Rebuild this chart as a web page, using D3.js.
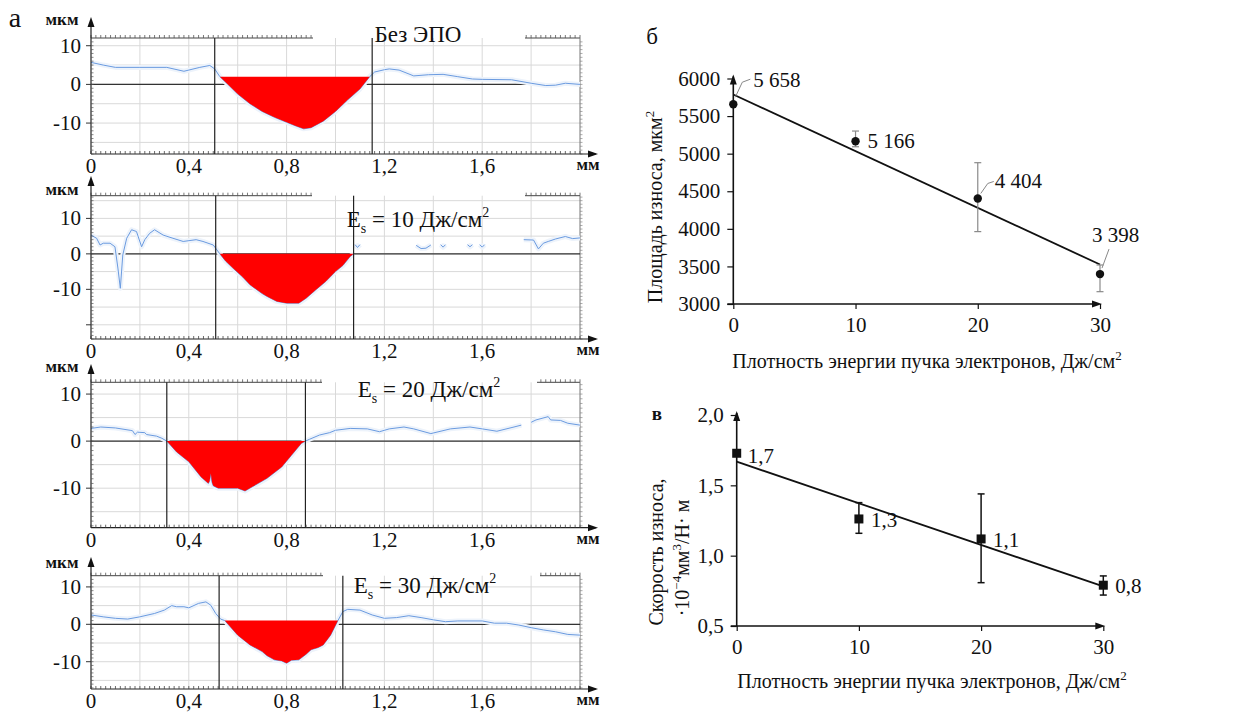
<!DOCTYPE html>
<html><head><meta charset="utf-8">
<script src="https://cdn.jsdelivr.net/npm/d3@7"></script>
<style>
body{margin:0;background:#fff}
svg{display:block}
text{font-family:"Liberation Serif","Times New Roman",serif;fill:#111}
</style>
</head><body>
<svg id="chart" width="1253" height="715"></svg>
<script>
// ---------------- DATA ----------------
// (а) wear-track profiles, x in mm, height in µm (null = gap in the trace)
const profileNoEBT = [[0,5.7],[0.05,5.0],[0.1,4.4],[0.2,4.4],[0.31,4.4],[0.38,3.4],[0.445,4.4],[0.486,4.9],[0.506,4.0],[0.527,2.0],
  [0.56,0],[0.6,-2.5],[0.65,-5],[0.7,-7],[0.75,-8.5],[0.8,-9.8],[0.84,-10.8],[0.87,-11.5],[0.9,-11.2],[0.95,-9.5],[1.0,-7.0],[1.05,-4],[1.1,-1.2],[1.14,2],
  [1.16,3.2],[1.2,3.8],[1.22,4.0],[1.26,3.7],[1.32,2.2],[1.38,2.5],[1.44,2.6],[1.5,2.0],[1.56,1.4],[1.6,1.3],[1.72,1.2],[1.8,0.3],[1.86,-0.3],[1.9,-0.2],[1.94,0.3],[2.0,0]];
const profile10 = [[0,5.3],[0.023,4.4],[0.037,2.5],[0.05,3],[0.078,3],[0.098,2],[0.11,-4],[0.12,-9.7],[0.13,-0.3],[0.146,4.4],[0.166,6.8],[0.186,6.3],
  [0.207,2],[0.22,4],[0.24,5.8],[0.26,6.8],[0.295,5.3],[0.335,4.4],[0.377,3.5],[0.43,4],[0.458,3.5],[0.5,2.5],[0.527,0],
  [0.55,-2],[0.58,-4],[0.62,-6.5],[0.65,-8.7],[0.7,-11.2],[0.72,-12],[0.76,-13.4],[0.8,-13.9],[0.85,-13.9],[0.88,-12.5],[0.92,-10.1],[0.96,-7.8],[1.0,-5],[1.03,-3.3],[1.06,-0.75],[1.074,0],
  [1.075,null],[1.08,2.6],[1.09,1.8],[1.1,2.6],[1.11,null],[1.33,2.4],[1.35,1.5],[1.37,1.6],[1.39,2.5],[1.4,null],[1.43,2.6],[1.44,1.9],[1.45,2.6],[1.46,null],
  [1.54,2.6],[1.55,2.0],[1.56,2.6],[1.57,null],[1.59,2.6],[1.6,1.9],[1.61,2.6],[1.62,null],
  [1.77,4.0],[1.81,3.9],[1.83,1.4],[1.85,3.0],[1.87,3.5],[1.9,4.2],[1.94,4.9],[1.97,4.3],[2.0,4.5]];
const profile20 = [[0,2.7],[0.04,3],[0.1,2.8],[0.16,2.3],[0.17,2.2],[0.18,1.4],[0.19,1.9],[0.22,1.8],[0.227,1.4],[0.268,1.06],[0.29,0.6],[0.31,0],
  [0.35,-2.3],[0.4,-4.4],[0.45,-7.6],[0.48,-9],[0.485,-8.5],[0.49,-6.9],[0.495,-8.8],[0.5,-9.5],[0.52,-10],[0.6,-10],[0.63,-10.6],[0.66,-9.7],[0.72,-7.9],[0.78,-5.5],[0.82,-3],[0.86,-0.5],[0.877,0],
  [0.894,0.4],[0.935,1.3],[0.976,1.8],[1.0,2.3],[1.06,2.7],[1.13,2.6],[1.18,2.0],[1.22,2.6],[1.28,3.0],[1.32,2.6],[1.39,1.6],[1.47,2.6],[1.55,3.0],[1.6,2.6],[1.66,2.1],[1.73,3.0],[1.76,3.4],
  [1.78,null],[1.8,4.0],[1.82,4.5],[1.87,5.2],[1.88,4.5],[1.92,4.4],[1.95,3.8],[2.0,3.4]];
const profile30 = [[0,2.5],[0.05,2],[0.1,1.6],[0.15,1.4],[0.2,2],[0.26,2.9],[0.3,3.8],[0.33,5],[0.35,4.7],[0.38,4.7],[0.4,4.4],[0.44,5.6],[0.47,6],[0.49,5.1],[0.51,2.9],[0.53,1.4],[0.547,1],
  [0.6,-2.9],[0.65,-5.5],[0.7,-7.3],[0.72,-8.4],[0.75,-9.5],[0.78,-9.8],[0.8,-10.4],[0.82,-9.6],[0.85,-9.5],[0.88,-8],[0.9,-6.8],[0.93,-6.2],[0.95,-5.5],[0.98,-2.9],[1.01,1],
  [1.03,3.4],[1.05,4],[1.1,3.8],[1.15,2.5],[1.2,1.6],[1.25,1.8],[1.3,2.3],[1.35,1.8],[1.4,1.2],[1.45,0.7],[1.5,0.9],[1.6,0.9],[1.65,0.3],[1.7,0.3],[1.75,-0.2],[1.8,-0.9],[1.85,-1.5],[1.9,-2],[1.95,-2.7],[2.0,-2.9]];
const profiles = [profileNoEBT, profile10, profile20, profile30];
const cutLeft   = [0.506, 0.51, 0.31, 0.524];   // mm
const cutRight  = [1.15, 1.074, 0.877, 1.03];   // mm
const craterFrom = [0.527, 0.527, 0.31, 0.547];
const craterTo   = [1.14, 1.074, 0.877, 1.01];
const craterTop  = [2, 0, 0, 1];                 // µm
const profileYDomains = [[-18,12],[-24,16.4],[-18.4,12.5],[-17.3,13]];
const profileTitles = ["Без ЭПО", "10", "20", "30"];
const mmTicks = [0, 0.4, 0.8, 1.2, 1.6];
const mmTickLabels = ["0", "0,4", "0,8", "1,2", "1,6"];
const umTicks = [10, 0, -10];
const umTickLabels = ["10", "0", "-10"];

// (б) wear area
const energy = [0, 10, 20, 30];
const wearArea = [5658, 5166, 4404, 3398];
const wearAreaErrTop = [5658, 5301, 4880, 3519];
const wearAreaErrBottom = [5658, 5092, 3963, 3164];
const areaTicks = [3000, 3500, 4000, 4500, 5000, 5500, 6000];
// (в) wear rate
const wearRate = [1.728, 1.261, 1.119, 0.79];
const wearRateLabels = ["1,7", "1,3", "1,1", "0,8"];
const wearRateErrTop = [1.728, 1.377, 1.439, 0.856];
const wearRateErrBottom = [1.728, 1.159, 0.808, 0.72];
const rateTicks = [0.5, 1.0, 1.5, 2.0];
const rateTickLabels = ["0,5", "1,0", "1,5", "2,0"];
const energyTicks = [0, 10, 20, 30];

// ---------------- DRAW ----------------
const SERIF = '"Liberation Serif","Times New Roman",serif';
const svg = d3.select("#chart");
const ruLocale = d3.formatLocale({decimal: ",", thousands: " ", grouping: [3], currency: ["", ""]});
const fmtThousands = ruLocale.format(",d");

function arrowUp(g, x, y) { g.append("path").attr("d", `M${x},${y} L${x-3.5},${y+10} L${x+3.5},${y+10} Z`).attr("fill", "#111"); }
function arrowRight(g, x, y) { g.append("path").attr("d", `M${x},${y} L${x-10},${y-3.5} L${x-10},${y+3.5} Z`).attr("fill", "#111"); }

// profile panels layout
const pLayout = [
  {top: 38,    bottom: 154,   arrowTop: 17,  gap: [313, 525], titleX: 418, titleY: 42,  unitY: 25},
  {top: 195.7, bottom: 339,   arrowTop: 176, gap: [312, 525], titleX: 418, titleY: 227, unitY: 195},
  {top: 382.3, bottom: 527.7, arrowTop: 364, gap: [322, 537], titleX: 429, titleY: 397, unitY: 372},
  {top: 575.7, bottom: 689,   arrowTop: 557, gap: [323, 540], titleX: 425, titleY: 593, unitY: 568}
];
const X0 = 91, X1 = 580;

profiles.forEach((prof, i) => {
  const L = pLayout[i];
  const x = d3.scaleLinear().domain([0, 2]).range([X0, X1]);
  const y = d3.scaleLinear().domain(profileYDomains[i]).range([L.bottom, L.top]);
  const g = svg.append("g");

  // grid
  const gridX = x.ticks(10).filter(v => v > 0 && v < 2);
  g.selectAll(".gx").data(gridX).join("line")
    .attr("x1", d => x(d)).attr("x2", d => x(d)).attr("y1", L.top).attr("y2", L.bottom)
    .attr("stroke", "#d9d9d9").attr("stroke-width", 1);
  const d0 = profileYDomains[i][0], d1 = profileYDomains[i][1];
  const gridY = d3.range(Math.ceil(d0 / 5) * 5, d1, 5);
  g.selectAll(".gy").data(gridY).join("line")
    .attr("x1", X0).attr("x2", X1).attr("y1", d => y(d)).attr("y2", d => y(d))
    .attr("stroke", "#d9d9d9").attr("stroke-width", 1);

  // top border (interrupted by title) with small ticks
  const minor = x.ticks(80);
  [[X0, L.gap[0]], [L.gap[1], X1]].forEach(([a, b]) => {
    g.append("line").attr("x1", a).attr("x2", b).attr("y1", L.top).attr("y2", L.top).attr("stroke", "#444").attr("stroke-width", 1);
    g.selectAll(null).data(minor.filter(v => x(v) >= a && x(v) <= b)).join("line")
      .attr("x1", d => x(d)).attr("x2", d => x(d)).attr("y1", L.top).attr("y2", L.top - 3)
      .attr("stroke", "#555").attr("stroke-width", 0.8);
  });
  // right border
  g.append("line").attr("x1", X1).attr("x2", X1).attr("y1", L.top).attr("y2", L.bottom).attr("stroke", "#777").attr("stroke-width", 1);
  g.selectAll(null).data(d3.range(Math.ceil(d0), d1, 1)).join("line")
    .attr("x1", X1).attr("x2", X1 + 2.5).attr("y1", d => y(d)).attr("y2", d => y(d)).attr("stroke", "#888").attr("stroke-width", 0.7);

  // zero line
  g.append("line").attr("x1", X0).attr("x2", X1).attr("y1", y(0)).attr("y2", y(0)).attr("stroke", "#333").attr("stroke-width", 1.3);

  // profile trace
  const line = d3.line().defined(d => d[1] !== null).x(d => x(d[0])).y(d => y(d[1]));
  g.append("path").datum(prof).attr("d", line).attr("fill", "none").attr("stroke", "#edf3fb").attr("stroke-width", 5).attr("stroke-linejoin", "round");
  g.append("path").datum(prof).attr("d", line).attr("fill", "none").attr("stroke", "#6b9be0").attr("stroke-width", 1);

  // wear crater (red)
  const crater = prof.filter(d => d[1] !== null && d[0] >= craterFrom[i] - 1e-9 && d[0] <= craterTo[i] + 1e-9);
  const area = d3.area().x(d => x(d[0])).y0(y(craterTop[i])).y1(d => y(d[1]));
  g.append("path").datum(crater).attr("d", area).attr("fill", "#ff0000");

  // cut lines
  [cutLeft[i], cutRight[i]].forEach(c => {
    g.append("line").attr("x1", x(c)).attr("x2", x(c)).attr("y1", L.top).attr("y2", L.bottom).attr("stroke", "#222").attr("stroke-width", 1.2);
  });

  // bottom axis
  g.append("line").attr("x1", X0).attr("x2", X1 + 16).attr("y1", L.bottom).attr("y2", L.bottom).attr("stroke", "#222").attr("stroke-width", 1.2);
  arrowRight(g, X1 + 18, L.bottom);
  g.selectAll(null).data(minor).join("line")
    .attr("x1", d => x(d)).attr("x2", d => x(d)).attr("y1", L.bottom).attr("y2", L.bottom - 3)
    .attr("stroke", "#444").attr("stroke-width", 0.8);
  g.selectAll(null).data(mmTicks).join("text")
    .attr("x", d => x(d)).attr("y", L.bottom + 19).attr("text-anchor", "middle").attr("font-size", 21)
    .text((d, k) => mmTickLabels[k]);
  g.append("text").attr("x", 588).attr("y", L.bottom + 16).attr("text-anchor", "middle").attr("font-size", 17).attr("font-weight", "bold").text("мм");

  // left axis
  g.append("line").attr("x1", X0).attr("x2", X0).attr("y1", L.bottom).attr("y2", L.arrowTop + 6).attr("stroke", "#222").attr("stroke-width", 1.2);
  arrowUp(g, X0, L.arrowTop);
  g.selectAll(null).data(d3.range(Math.ceil(d0), d1, 1)).join("line")
    .attr("x1", X0).attr("x2", X0 + 2.5).attr("y1", d => y(d)).attr("y2", d => y(d)).attr("stroke", "#555").attr("stroke-width", 0.7);
  g.selectAll(null).data(d3.range(Math.ceil(d0 / 10) * 10, d1, 10)).join("line")
    .attr("x1", X0 - 5).attr("x2", X0).attr("y1", d => y(d)).attr("y2", d => y(d)).attr("stroke", "#333").attr("stroke-width", 1);
  g.selectAll(null).data(umTicks).join("text")
    .attr("x", X0 - 10).attr("y", d => y(d) + 7).attr("text-anchor", "end").attr("font-size", 21)
    .text((d, k) => umTickLabels[k]);
  g.append("text").attr("x", 62).attr("y", L.unitY).attr("text-anchor", "middle").attr("font-size", 17).attr("font-weight", "bold").text("мкм");

  // title
  const t = g.append("text").attr("x", L.titleX).attr("y", L.titleY).attr("text-anchor", "middle").attr("font-size", 23);
  if (i === 0) {
    t.text(profileTitles[i]);
  } else {
    t.append("tspan").text("E");
    t.append("tspan").attr("font-size", 14).attr("dy", 6).text("s");
    t.append("tspan").attr("dy", -6).text(" = " + profileTitles[i] + " Дж/см");
    t.append("tspan").attr("font-size", 14).attr("dy", -10).text("2");
  }
});
svg.append("text").attr("x", 15).attr("y", 27).attr("text-anchor", "middle").attr("font-size", 28).text("а");

// ---------------- scatter panels ----------------
function scatterPanel(cfg) {
  const g = svg.append("g");
  const x = d3.scaleLinear().domain([0, 30]).range([cfg.x0, cfg.x1]);
  const y = d3.scaleLinear().domain(cfg.yDomain).range([cfg.yBottom, cfg.yTop]);

  // y axis
  const ya = d3.axisLeft(y).tickValues(cfg.yTicks).tickSize(6).tickPadding(7).tickFormat(cfg.yFmt);
  const gy = g.append("g").attr("transform", `translate(${cfg.x0},0)`).call(ya);
  gy.select(".domain").remove();
  gy.selectAll("line").attr("stroke", "#111").attr("stroke-width", 1.2);
  gy.selectAll("text").attr("font-size", 21).attr("font-family", SERIF).attr("fill", "#111");
  g.append("line").attr("x1", cfg.x0).attr("x2", cfg.x0).attr("y1", cfg.yBottom).attr("y2", cfg.yTop - 2).attr("stroke", "#111").attr("stroke-width", 1.6);
  arrowUp(g, cfg.x0, cfg.yTop - 4);

  // x axis
  const xa = d3.axisBottom(x).tickValues(energyTicks).tickSize(5).tickPadding(8).tickFormat(d3.format("d"));
  const gx = g.append("g").attr("transform", `translate(0,${cfg.yBottom})`).call(xa);
  gx.select(".domain").remove();
  gx.selectAll("line").attr("stroke", "#111").attr("stroke-width", 1.2);
  gx.selectAll("text").attr("font-size", 21).attr("font-family", SERIF).attr("fill", "#111");
  g.append("line").attr("x1", cfg.x0 - 6).attr("x2", cfg.x1 - 2).attr("y1", cfg.yBottom).attr("y2", cfg.yBottom).attr("stroke", "#111").attr("stroke-width", 1.6);
  arrowRight(g, cfg.x1 + 2, cfg.yBottom);

  // trend line (least squares)
  const mx = d3.mean(energy), my = d3.mean(cfg.values);
  const slope = d3.sum(energy, (e, k) => (e - mx) * (cfg.values[k] - my)) / d3.sum(energy, e => (e - mx) ** 2);
  const icpt = my - slope * mx;
  g.append("line").attr("x1", x(0)).attr("x2", x(30)).attr("y1", y(icpt)).attr("y2", y(icpt + slope * 30))
    .attr("stroke", "#111").attr("stroke-width", 1.8);

  // error bars
  energy.forEach((e, k) => {
    if (cfg.errTop[k] === cfg.errBottom[k]) return;
    const col = cfg.errColor;
    g.append("line").attr("x1", x(e)).attr("x2", x(e)).attr("y1", y(cfg.errTop[k])).attr("y2", y(cfg.errBottom[k])).attr("stroke", col).attr("stroke-width", cfg.errWidth);
    [cfg.errTop[k], cfg.errBottom[k]].forEach(v => g.append("line").attr("x1", x(e) - 3.5).attr("x2", x(e) + 3.5).attr("y1", y(v)).attr("y2", y(v)).attr("stroke", col).attr("stroke-width", cfg.errWidth));
  });

  // markers
  if (cfg.marker === "circle") {
    g.selectAll(null).data(cfg.values).join("circle").attr("cx", (d, k) => x(energy[k])).attr("cy", d => y(d)).attr("r", 4.2).attr("fill", "#111");
  } else {
    g.selectAll(null).data(cfg.values).join("rect").attr("x", (d, k) => x(energy[k]) - 4.5).attr("y", d => y(d) - 4.5).attr("width", 9).attr("height", 9).attr("fill", "#111");
  }

  // value labels
  cfg.values.forEach((v, k) => {
    const o = cfg.labelOffsets[k];
    const px = x(energy[k]), py = y(v);
    if (o.leader) {
      g.append("polyline").attr("points", o.leader.map(p => [px + p[0], py + p[1]].join(",")).join(" "))
        .attr("fill", "none").attr("stroke", "#888").attr("stroke-width", 1);
    }
    g.append("text").attr("x", px + o.dx).attr("y", py + o.dy).attr("font-size", 21).text(cfg.labels[k]);
  });

  // axis title
  const xt = g.append("text").attr("x", cfg.xTitleX).attr("y", cfg.xTitleY).attr("text-anchor", "middle").attr("font-size", 20);
  xt.append("tspan").text("Плотность энергии пучка электронов, Дж/см");
  xt.append("tspan").attr("font-size", 13).attr("dy", -8).text("2");
  return g;
}

scatterPanel({
  x0: 733.3, x1: 1100, yTop: 78.5, yBottom: 304, yDomain: [3000, 6000], yTicks: areaTicks, yFmt: d3.format("d"),
  values: wearArea, labels: wearArea.map(fmtThousands), errTop: wearAreaErrTop, errBottom: wearAreaErrBottom,
  errColor: "#8a8a8a", errWidth: 1.2, marker: "circle",
  labelOffsets: [
    {dx: 20, dy: -17, leader: [[2, -7], [9, -22], [17, -25]]},
    {dx: 12, dy: 7},
    {dx: 17, dy: -10, leader: [[3, -5], [10, -15], [16, -17]]},
    {dx: -8, dy: -32, leader: [[2, -6], [9, -25]]}
  ],
  xTitleX: 927, xTitleY: 368
});
svg.append("text").attr("x", 652).attr("y", 44).attr("text-anchor", "middle").attr("font-size", 23).text("б");
svg.append("text").attr("transform", "translate(662,207) rotate(-90)").attr("text-anchor", "middle").attr("font-size", 20)
  .call(t => { t.append("tspan").text("Площадь износа, мкм"); t.append("tspan").attr("font-size", 13).attr("dy", -8).text("2"); });

scatterPanel({
  x0: 736.7, x1: 1103.3, yTop: 415, yBottom: 626, yDomain: [0.5, 2.0], yTicks: rateTicks, yFmt: d => rateTickLabels[rateTicks.indexOf(d)],
  values: wearRate, labels: wearRateLabels, errTop: wearRateErrTop, errBottom: wearRateErrBottom,
  errColor: "#111", errWidth: 1.5, marker: "square",
  labelOffsets: [{dx: 11, dy: 10}, {dx: 12, dy: 8}, {dx: 12, dy: 8}, {dx: 12, dy: 8}],
  xTitleX: 932, xTitleY: 688
});
svg.append("text").attr("x", 657).attr("y", 420).attr("text-anchor", "middle").attr("font-size", 19).attr("font-weight", "bold").text("в");
svg.append("text").attr("transform", "translate(663,552) rotate(-90)").attr("text-anchor", "middle").attr("font-size", 20).text("Скорость износа,");
svg.append("text").attr("transform", "translate(689,558) rotate(-90)").attr("text-anchor", "middle").attr("font-size", 20)
  .call(t => {
    t.append("tspan").text("·10");
    t.append("tspan").attr("font-size", 13).attr("dy", -8).text("−4");
    t.append("tspan").attr("dy", 8).text("мм");
    t.append("tspan").attr("font-size", 13).attr("dy", -8).text("3");
    t.append("tspan").attr("dy", 8).text("/Н· м");
  });
</script>
</body></html>
